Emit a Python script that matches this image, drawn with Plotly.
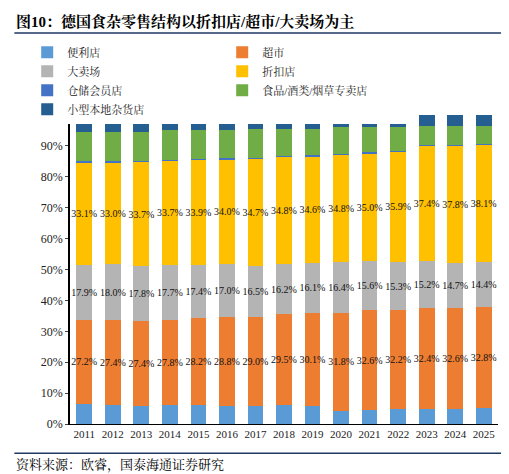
import plotly.graph_objects as go

years = [str(y) for y in range(2011, 2026)]
convenience = [6.5, 6.3, 5.9, 6.0, 6.0, 5.9, 5.7, 6.0, 5.9, 4.2, 4.4, 4.8, 5.0, 4.9, 5.1]
supermarket = [27.2, 27.4, 27.4, 27.8, 28.2, 28.8, 29.0, 29.5, 30.1, 31.8, 32.6, 32.2, 32.4, 32.6, 32.8]
hypermarket = [17.9, 18.0, 17.8, 17.7, 17.4, 17.0, 16.5, 16.2, 16.1, 16.4, 15.6, 15.3, 15.2, 14.7, 14.4]
discount = [33.1, 33.0, 33.7, 33.7, 33.9, 34.0, 34.7, 34.8, 34.6, 34.8, 35.0, 35.9, 37.4, 37.8, 38.1]
warehouse = [0.3] * 15
specialist = [9.5, 9.5, 9.4, 9.5, 9.2, 9.0, 9.3, 8.7, 8.5, 8.5, 8.1, 7.5, 6.2, 6.2, 5.8]
local_grocery = [5.5, 5.5, 5.5, 5.0, 5.0, 5.0, 4.5, 4.5, 4.5, 4.0, 4.0, 4.0, 3.5, 3.5, 3.4]

font = "Liberation Serif, Noto Serif CJK SC, Noto Sans CJK SC"

fig = go.Figure()

def add(name, vals, color, labels=False):
    fig.add_trace(go.Bar(
        x=years, y=vals, name=name, marker_color=color,
        marker_line_width=0,
        text=[f"{v:.1f}%" for v in vals] if labels else None,
        textposition="inside" if labels else "none",
        insidetextanchor="middle", textangle=0,
        textfont=dict(size=10, color="#111111"),
    ))

add("便利店", convenience, "#5B9BD5")
add("超市", supermarket, "#ED7D31", True)
add("大卖场", hypermarket, "#B4B4B4", True)
add("折扣店", discount, "#FFC000", True)
add("仓储会员店", warehouse, "#4472C4")
add("食品/酒类/烟草专卖店", specialist, "#70AD47")
add("小型本地杂货店", local_grocery, "#255E91")

fig.update_layout(
    barmode="stack",
    bargap=0.45,
    width=509, height=474,
    plot_bgcolor="white", paper_bgcolor="white",
    font=dict(family=font, size=11, color="#222222"),
    margin=dict(l=62, r=19, t=107, b=58),
    uniformtext=dict(minsize=10, mode="show"),
    legend=dict(orientation="h", x=-0.1, y=1.25, xanchor="left", yanchor="top",
                entrywidth=150, traceorder="normal", tracegroupgap=0,
                font=dict(size=11)),
    xaxis=dict(showline=True, linecolor="black", ticks="", tickfont=dict(size=11)),
    yaxis=dict(range=[0, 100], dtick=10, ticksuffix="%", showgrid=False,
               showline=True, linecolor="black", linewidth=1.5, ticks="outside",
               ticklen=3, tickfont=dict(size=12)),
)
fig.add_annotation(text="<b>图10：德国食杂零售结构以折扣店/超市/大卖场为主</b>",
                   xref="paper", yref="paper", x=-0.13, y=1.335, xanchor="left",
                   yanchor="top", showarrow=False, font=dict(size=15, color="black"))
fig.add_annotation(text="资料来源：欧睿，国泰海通证券研究",
                   xref="paper", yref="paper", x=-0.13, y=-0.10, xanchor="left",
                   yanchor="top", showarrow=False, font=dict(size=13, color="black"))
fig.add_shape(type="line", xref="paper", yref="paper", x0=-0.13, x1=1.03,
              y0=1.265, y1=1.265, line=dict(color="#1F3864", width=1.5))
fig.add_shape(type="line", xref="paper", yref="paper", x0=-0.13, x1=1.03,
              y0=-0.095, y1=-0.095, line=dict(color="#1F3864", width=1.5))
fig.write_html("out.html")
